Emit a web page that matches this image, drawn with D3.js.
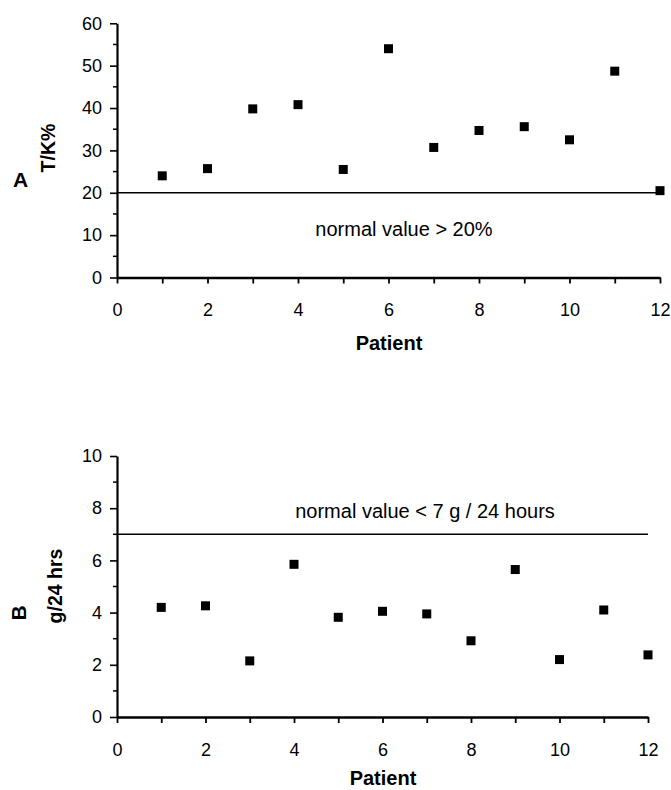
<!DOCTYPE html>
<html>
<head>
<meta charset="utf-8">
<script src="https://cdn.jsdelivr.net/npm/d3@7"></script>
<style>
  html, body { margin: 0; padding: 0; background: #fff; }
  svg { display: block; font-family: "Liberation Sans", Arial, sans-serif; }
</style>
</head>
<body>
<svg id="chart" width="671" height="790"></svg>
<script>
// Patients 1..12
const patients = [1, 2, 3, 4, 5, 6, 7, 8, 9, 10, 11, 12];
// Panel A: T/K ratio (%)
const tkValues = [24, 25.7, 39.8, 40.8, 25.5, 54, 30.7, 34.7, 35.6, 32.5, 48.7, 20.5];
// Panel B: excretion (g/24 hrs)
const gValues = [4.2, 4.26, 2.15, 5.85, 3.82, 4.05, 3.95, 2.92, 5.65, 2.2, 4.1, 2.38];
// Axis ticks
const xTickLabels = [0, 2, 4, 6, 8, 10, 12];
const tkTicks = [0, 10, 20, 30, 40, 50, 60];
const gTicks = [0, 2, 4, 6, 8, 10];
// Reference thresholds
const tkNormal = 20;
const gNormal = 7;

const svg = d3.select("#chart");
const FONT = "Liberation Sans, Arial, sans-serif";

function panel(cfg) {
  const x = d3.scaleLinear().domain([0, 12]).range([cfg.x0, cfg.x1]);
  const y = d3.scaleLinear().domain(cfg.yDomain).range([cfg.y0, cfg.y1]);
  const g = svg.append("g");

  // minor y ticks
  g.append("g").selectAll("line").data(cfg.minor).join("line")
    .attr("x1", cfg.x0 - 4).attr("x2", cfg.x0)
    .attr("y1", d => y(d)).attr("y2", d => y(d))
    .attr("stroke", "#000").attr("stroke-width", 1.5);

  // y axis with major ticks
  const yAxis = d3.axisLeft(y).tickValues(cfg.yTicks).tickSize(7).tickPadding(8).tickSizeOuter(0);
  const ya = g.append("g").attr("transform", `translate(${cfg.x0},0)`).call(yAxis);
  ya.select(".domain").attr("stroke-width", 2.2);
  ya.selectAll(".tick line").attr("stroke-width", 1.6);
  ya.selectAll(".tick text").attr("font-size", 18).attr("font-family", FONT).attr("fill", "#000");

  // x axis: ticks at each patient, labels on even values
  const xAxis = d3.axisBottom(x).tickValues(d3.range(0, 13)).tickSize(6).tickPadding(20).tickSizeOuter(0)
    .tickFormat(d => xTickLabels.includes(d) ? d : "");
  const xa = g.append("g").attr("transform", `translate(0,${cfg.y0})`).call(xAxis);
  xa.select(".domain").attr("stroke-width", 2.6);
  xa.selectAll(".tick line").attr("stroke-width", 1.8);
  xa.selectAll(".tick text").attr("font-size", 18).attr("font-family", FONT).attr("fill", "#000");

  // normal value line
  g.append("line")
    .attr("x1", x(0)).attr("x2", x(12))
    .attr("y1", y(cfg.normal)).attr("y2", y(cfg.normal))
    .attr("stroke", "#000").attr("stroke-width", 1.5);

  g.append("text")
    .attr("x", cfg.noteX).attr("y", cfg.noteY)
    .attr("text-anchor", "middle").attr("font-size", 20)
    .text(cfg.note);

  // data markers
  g.append("g").selectAll("rect").data(cfg.values).join("rect")
    .attr("x", (d, i) => x(patients[i]) - 4.5)
    .attr("y", d => y(d) - 4.5)
    .attr("width", 9).attr("height", 9)
    .attr("fill", "#000");

  // axis titles
  g.append("text")
    .attr("x", (cfg.x0 + x(12)) / 2 + 0.5).attr("y", cfg.y0 + cfg.titleGap)
    .attr("text-anchor", "middle").attr("font-size", 20).attr("font-weight", "bold")
    .text("Patient");

  g.append("text")
    .attr("transform", `translate(${cfg.yLabelX},${cfg.yLabelY}) rotate(-90)`)
    .attr("text-anchor", "middle").attr("font-size", 19.5).attr("font-weight", "bold")
    .text(cfg.yLabel);

  g.append("text")
    .attr("transform", `translate(${cfg.letterX},${cfg.letterY}) rotate(${cfg.letterRot})`)
    .attr("text-anchor", "middle").attr("font-size", 21).attr("font-weight", "bold")
    .text(cfg.letter);
}

panel({
  values: tkValues, yDomain: [0, 60], yTicks: tkTicks,
  minor: d3.range(5, 60, 10),
  x0: 117, x1: 660, y0: 277.5, y1: 23.3, titleGap: 72,
  normal: tkNormal, note: "normal value > 20%", noteX: 404, noteY: 236,
  yLabel: "T/K%", yLabelX: 55, yLabelY: 148, letter: "A", letterX: 20.5, letterY: 187, letterRot: 0
});

panel({
  values: gValues, yDomain: [0, 10], yTicks: gTicks,
  minor: d3.range(1, 10, 2),
  x0: 117, x1: 648, y0: 717, y1: 456, titleGap: 68,
  normal: gNormal, note: "normal value < 7 g / 24 hours", noteX: 425, noteY: 518,
  yLabel: "g/24 hrs", yLabelX: 62, yLabelY: 586, letter: "B", letterX: 26, letterY: 613, letterRot: -90
});
</script>
</body>
</html>
